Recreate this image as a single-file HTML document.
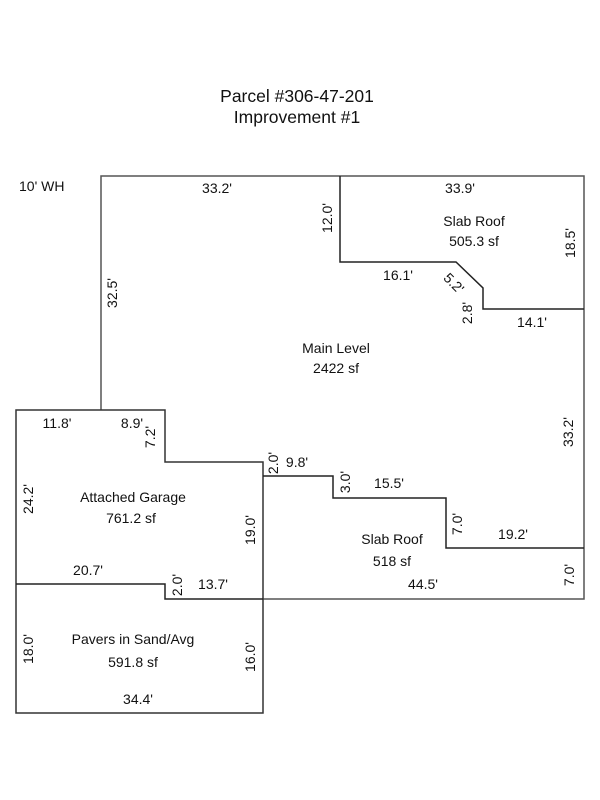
<!DOCTYPE html>
<html>
<head>
<meta charset="utf-8">
<style>
html,body{margin:0;padding:0;background:#fff;}
svg{display:block;}
text{font-family:"Liberation Sans",Arial,sans-serif;font-size:14px;fill:#111;}
.t{font-size:17.5px;}
</style>
</head>
<body>
<svg width="600" height="800" viewBox="0 0 600 800" xmlns="http://www.w3.org/2000/svg">
<rect width="600" height="800" fill="#fff"/>
<g fill="none" stroke-linejoin="miter">
  <!-- main outline -->
  <path d="M101,410 V176 H584 V599 H263" stroke="#555" stroke-width="1.5"/>
  <!-- upper slab roof -->
  <path d="M340,176 V262 H456 L483,288 V309 H584" stroke="#222" stroke-width="1.5"/>
  <!-- garage / pavers -->
  <path d="M263,599 V713 H16 V410 H165 V462 H263 V599" stroke="#333" stroke-width="1.5"/>
  <path d="M16,584 H165 V599 H263" stroke="#222" stroke-width="1.5"/>
  <!-- lower slab roof -->
  <path d="M263,476 H333 V498 H446 V548 H584" stroke="#222" stroke-width="1.5"/>
</g>

<text class="t" x="297" y="102" text-anchor="middle">Parcel #306-47-201</text>
<text class="t" x="297" y="123" text-anchor="middle">Improvement #1</text>

<text x="19" y="191">10' WH</text>
<text x="217" y="193" text-anchor="middle">33.2'</text>
<text x="460" y="193" text-anchor="middle">33.9'</text>
<text x="474" y="226" text-anchor="middle">Slab Roof</text>
<text x="474" y="246" text-anchor="middle">505.3 sf</text>
<text x="398" y="280" text-anchor="middle">16.1'</text>
<text x="532" y="327" text-anchor="middle">14.1'</text>
<text x="336" y="353" text-anchor="middle">Main Level</text>
<text x="336" y="373" text-anchor="middle">2422 sf</text>

<text x="57" y="428" text-anchor="middle">11.8'</text>
<text x="132" y="428" text-anchor="middle">8.9'</text>
<text x="297" y="467" text-anchor="middle">9.8'</text>
<text x="133" y="502" text-anchor="middle">Attached Garage</text>
<text x="131" y="523" text-anchor="middle">761.2 sf</text>
<text x="389" y="488" text-anchor="middle">15.5'</text>
<text x="513" y="539" text-anchor="middle">19.2'</text>
<text x="392" y="544" text-anchor="middle">Slab Roof</text>
<text x="392" y="566" text-anchor="middle">518 sf</text>
<text x="423" y="589" text-anchor="middle">44.5'</text>
<text x="88" y="575" text-anchor="middle">20.7'</text>
<text x="213" y="589" text-anchor="middle">13.7'</text>
<text x="133" y="644" text-anchor="middle">Pavers in Sand/Avg</text>
<text x="133" y="667" text-anchor="middle">591.8 sf</text>
<text x="138" y="704" text-anchor="middle">34.4'</text>

<!-- rotated labels -->
<g text-anchor="middle">
  <text transform="translate(112,293) rotate(-90)" y="5">32.5'</text>
  <text transform="translate(327,218) rotate(-90)" y="5">12.0'</text>
  <text transform="translate(570,243) rotate(-90)" y="5">18.5'</text>
  <text transform="translate(454,283) rotate(45)" y="5">5.2'</text>
  <text transform="translate(467,313) rotate(-90)" y="5">2.8'</text>
  <text transform="translate(568,432) rotate(-90)" y="5">33.2'</text>
  <text transform="translate(150,437) rotate(-90)" y="5">7.2'</text>
  <text transform="translate(273,463) rotate(-90)" y="5">2.0'</text>
  <text transform="translate(28,499) rotate(-90)" y="5">24.2'</text>
  <text transform="translate(250,530) rotate(-90)" y="5">19.0'</text>
  <text transform="translate(345,482) rotate(-90)" y="5">3.0'</text>
  <text transform="translate(457,524) rotate(-90)" y="5">7.0'</text>
  <text transform="translate(569,575) rotate(-90)" y="5">7.0'</text>
  <text transform="translate(177,585) rotate(-90)" y="5">2.0'</text>
  <text transform="translate(28,649) rotate(-90)" y="5">18.0'</text>
  <text transform="translate(250,657) rotate(-90)" y="5">16.0'</text>
</g>
</svg>
</body>
</html>
